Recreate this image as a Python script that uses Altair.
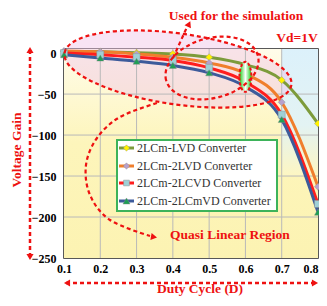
import altair as alt
import pandas as pd

# ---------------- data ----------------
duty = [0.1, 0.2, 0.3, 0.4, 0.5, 0.6, 0.7, 0.8]
series_names = ["2LCm-LVD Converter", "2LCm-2LVD Converter",
                "2LCm-2LCVD Converter", "2LCm-2LCmVD Converter"]
gain_lvd = [2, 1.5, 0.5, -1, -5, -14, -33, -86]
gain_2lvd = [2.5, 1.5, -1, -5, -12, -25, -60, -163]
gain_2lcvd = [0, -2, -5, -9, -18, -35, -75, -184]
gain_2lcmvd = [-2, -6, -10, -15, -24, -41, -81, -194]
x_ticks = [0.1, 0.2, 0.3, 0.4, 0.5, 0.6, 0.7, 0.8]
y_ticks = [0, -50, -100, -150, -200, -250]

line_colors = ["#7d9b3b", "#f07e2c", "#ff1e1e", "#3d5b9b"]
marker_fills = ["#fff200", "#b7a1cc", "#9fd0d6", "#1f9e55"]
marker_shapes = ["diamond", "diamond", "square", "triangle-up"]
marker_sizes = [50, 50, 42, 64]

RED = "#ee1111"
FONT = "Liberation Serif"

rows = []
for name, vals in zip(series_names, [gain_lvd, gain_2lvd, gain_2lcvd, gain_2lcmvd]):
    for d, g in zip(duty, vals):
        rows.append({"duty": d, "gain": g, "series": name})
df = pd.DataFrame(rows)

xs = alt.Scale(domain=[0.1, 0.8], nice=False, zero=False)
ys = alt.Scale(domain=[-250, 5], nice=False, zero=False)
AX = alt.Axis(values=x_ticks, format=".1f", title=None, labelOverlap=False, labelFlush=False,
              labelAlign={"condition": {"test": "datum.value >= 0.79", "value": "right"},
                          "value": "center"})
AY = alt.Axis(values=y_ticks, format="d", title=None, labelOverlap=False, labelFlush=False)

def X(field):
    return alt.X(field, scale=xs, axis=AX)

def Y(field):
    return alt.Y(field, scale=ys, axis=AY)

# ---------------- background ----------------
bg = alt.Chart(pd.DataFrame({"x": [0.1], "x2": [0.8], "y": [5], "y2": [-250]})).mark_rect(
    color=alt.LinearGradient(gradient="linear",
                             stops=[alt.GradientStop(color="#fffcea", offset=0),
                                    alt.GradientStop(color="#fdf5bb", offset=0.45),
                                    alt.GradientStop(color="#fcf3b2", offset=1)],
                             x1=0, x2=0, y1=0, y2=1)
).encode(x=X("x:Q"), x2="x2", y=Y("y:Q"), y2="y2")

blue = alt.Chart(pd.DataFrame({"x": [0.7], "x2": [0.8], "y": [5], "y2": [-150]})).mark_rect(
    color=alt.LinearGradient(gradient="linear",
                             stops=[alt.GradientStop(color="#dcf1fb", offset=0),
                                    alt.GradientStop(color="#e3f3f3", offset=0.6),
                                    alt.GradientStop(color="#fdf6c2", offset=1)],
                             x1=0, x2=0, y1=0, y2=1)
).encode(x=X("x:Q"), x2="x2", y=Y("y:Q"), y2="y2")

big_path = "M-1,0A1,0.31 0 1,1 1,0A1,0.31 0 1,1 -1,0Z"
small_path = "M-1,0A1,0.63 0 1,1 1,0A1,0.63 0 1,1 -1,0Z"
green_path = "M-0.4,0A0.4,1 0 1,1 0.4,0A0.4,1 0 1,1 -0.4,0Z"
BIG = 229

px = lambda: alt.X("x:Q", scale=None)
py = lambda: alt.Y("y:Q", scale=None)

pink = alt.Chart(pd.DataFrame({"x": [114], "y": [20]})).mark_point(
    shape=big_path, size=BIG * BIG, angle=8, filled=True,
    fill="#f0c4e6", fillOpacity=0.45, strokeOpacity=0
).encode(x=px(), y=py())

# ---------------- grid ----------------
gx = alt.Chart(pd.DataFrame({"v": x_ticks[1:-1]})).mark_rule(color="#b9b9b9", strokeWidth=1).encode(
    x=X("v:Q"))
gy = alt.Chart(pd.DataFrame({"v": y_ticks[1:-1]})).mark_rule(color="#b9b9b9", strokeWidth=1).encode(
    y=Y("v:Q"))

# ---------------- data marks ----------------
lines = alt.Chart(df).mark_line(interpolate="monotone", strokeWidth=3).encode(
    x=X("duty:Q"),
    y=Y("gain:Q"),
    color=alt.Color("series:N", scale=alt.Scale(domain=series_names, range=line_colors), legend=None),
)

markers = alt.Chart(df).mark_point(filled=True, opacity=1, stroke="#888888", strokeWidth=0.4).encode(
    x=X("duty:Q"),
    y=Y("gain:Q"),
    fill=alt.Fill("series:N", scale=alt.Scale(domain=series_names, range=marker_fills), legend=None),
    shape=alt.Shape("series:N", scale=alt.Scale(domain=series_names, range=marker_shapes), legend=None),
    size=alt.Size("series:N", scale=alt.Scale(domain=series_names, range=marker_sizes), legend=None),
)

green = alt.Chart(pd.DataFrame({"x": [0.6], "y": [-29]})).mark_point(
    shape=green_path, size=900, filled=True, opacity=1,
    fill=alt.LinearGradient(gradient="linear",
                            stops=[alt.GradientStop(color="#16d016", offset=0),
                                   alt.GradientStop(color="#ffffff", offset=0.5),
                                   alt.GradientStop(color="#16d016", offset=1)],
                            x1=0, x2=1, y1=0, y2=0),
    stroke=RED, strokeWidth=2, strokeDash=[3, 2]
).encode(x=X("x:Q"), y=Y("y:Q"))

# ---------------- dashed annotations ----------------
big_ol = alt.Chart(pd.DataFrame({"x": [114], "y": [20]})).mark_point(
    shape=big_path, size=BIG * BIG, angle=8, filled=False,
    color=RED, strokeWidth=2.2, strokeDash=[4, 3], opacity=1
).encode(x=px(), y=py())

small_ol = alt.Chart(pd.DataFrame({"x": [148], "y": [19]})).mark_point(
    shape=small_path, size=95 * 95, angle=345, filled=False,
    color=RED, strokeWidth=2.2, strokeDash=[4, 3], opacity=1
).encode(x=px(), y=py())

curve = alt.Chart(pd.DataFrame({
    "i": list(range(7)),
    "x": [93, 56, 33, 22, 26, 46, 86],
    "y": [54, 68, 89, 116, 146, 171, 187]})).mark_line(
    color=RED, strokeWidth=2.2, strokeDash=[4, 3], interpolate="cardinal"
).encode(x=px(), y=py(), order="i:Q")

sim = alt.Chart(pd.DataFrame({"i": [0, 1], "x": [109, 123], "y": [9, -22]})).mark_line(
    color=RED, strokeWidth=2.2, strokeDash=[4, 3]
).encode(x=px(), y=py(), order="i:Q")

vrule = alt.Chart(pd.DataFrame({"x": [-34], "y": [1], "y2": [208]})).mark_rule(
    color=RED, strokeWidth=2.5, strokeDash=[4, 3]
).encode(x=px(), y=py(), y2="y2")
hrule = alt.Chart(pd.DataFrame({"y": [234], "x": [2], "x2": [251]})).mark_rule(
    color=RED, strokeWidth=2.5, strokeDash=[4, 3]
).encode(x=px(), x2="x2", y=py())

heads = alt.Chart(pd.DataFrame({
    "x": [-34, -34, 3, 251, 90, 125],
    "y": [1, 208, 234, 234, 188, -25],
    "s": ["triangle-up", "triangle-down", "triangle-left", "triangle-right", "triangle-right", "triangle-up"],
    "a": [0, 0, 0, 0, 10, 25]})).mark_point(
    filled=True, color=RED, size=50, opacity=1
).encode(x=px(), y=py(), shape=alt.Shape("s:N", scale=None), angle=alt.Angle("a:Q", scale=None))

# ---------------- legend ----------------
leg_box = alt.Chart(pd.DataFrame({"x": [53], "x2": [213], "y": [91], "y2": [162]})).mark_rect(
    fill="white", stroke="#3db35a", strokeWidth=2
).encode(x=px(), x2="x2", y=py(), y2="y2")

leg_y = [99, 117, 134, 152]
leg_df = pd.DataFrame({"name": series_names, "y": leg_y, "x": [55] * 4, "x2": [70] * 4,
                       "xm": [62.5] * 4, "xt": [73] * 4,
                       "c": line_colors, "f": marker_fills, "s": marker_shapes,
                       "sz": [40, 40, 34, 50]})
leg_lines = alt.Chart(leg_df).mark_rule(strokeWidth=3).encode(
    x=px(), x2="x2", y=py(), color=alt.Color("c:N", scale=None))
leg_marks = alt.Chart(leg_df).mark_point(filled=True, opacity=1, stroke="#888888", strokeWidth=0.4).encode(
    x=alt.X("xm:Q", scale=None), y=py(),
    fill=alt.Fill("f:N", scale=None), shape=alt.Shape("s:N", scale=None),
    size=alt.Size("sz:Q", scale=None))
leg_text = alt.Chart(leg_df).mark_text(
    align="left", baseline="middle", font=FONT, fontSize=12, color="#333333"
).encode(x=alt.X("xt:Q", scale=None), y=py(), text="name:N")

# ---------------- texts ----------------
txt = alt.Chart(pd.DataFrame({
    "t": ["Used for the simulation", "Vd=1V", "Quasi Linear Region", "Duty Cycle (D)"],
    "x": [172, 233, 166, 136],
    "y": [-33, -11, 186, 240]})).mark_text(
    font=FONT, fontSize=13.5, fontWeight="bold", color=RED, baseline="middle", align="center"
).encode(x=px(), y=py(), text="t:N")

ytitle = alt.Chart(pd.DataFrame({"t": ["Voltage Gain"], "x": [-47], "y": [101]})).mark_text(
    font=FONT, fontSize=13.5, fontWeight="bold", color=RED, baseline="middle", align="center", angle=270
).encode(x=px(), y=py(), text="t:N")

chart = alt.layer(
    bg, blue, pink, gx, gy, lines, markers, green,
    big_ol, small_ol, curve, sim, vrule, hrule, heads,
    leg_box, leg_lines, leg_marks, leg_text, txt, ytitle
).properties(
    width=254, height=209,
    autosize=alt.AutoSizeParams(type="none"),
    padding={"left": 56, "top": 41, "right": 1, "bottom": 40},
).configure_view(
    stroke="#222222", strokeWidth=1.5, fill="white"
).configure_axis(
    grid=False, domain=False, ticks=False, labelOverlap=False, labelFlush=False,
    labelFont=FONT, labelFontWeight="bold", labelFontSize=12, labelColor="#000000",
    labelPadding=8,
).configure_axisX(labelPadding=5)

chart.save("out.html", embed_options={"renderer": "svg", "actions": False})
